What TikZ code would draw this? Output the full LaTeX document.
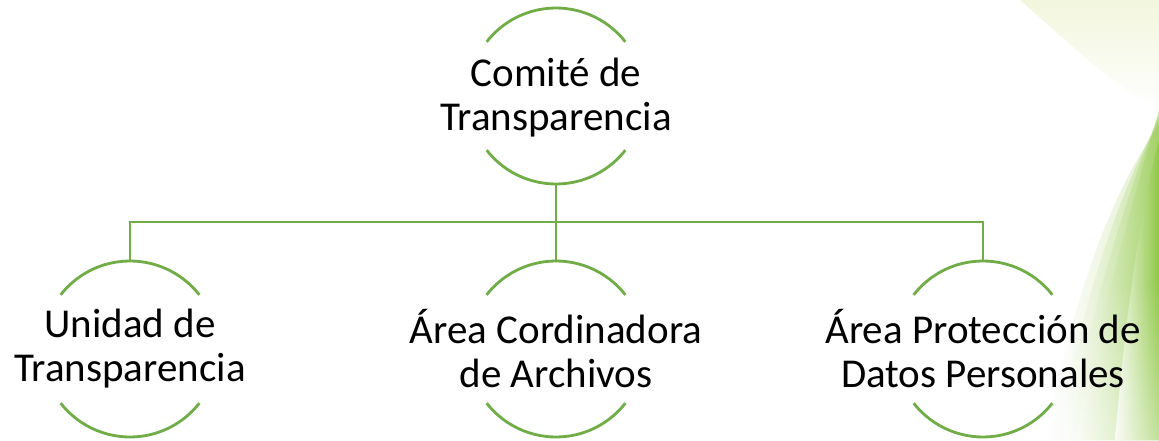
\documentclass[tikz,border=0pt]{standalone}
\usepackage{fontspec}
\setmainfont{Carlito}
\usetikzlibrary{fadings,calc}
\definecolor{lg}{HTML}{70AD47}
\definecolor{swoosh}{HTML}{8CC63E}
\definecolor{pale}{HTML}{F2F6DC}
\tikzset{
  unit/.style={draw=none, inner sep=0pt, align=center,
     font=\fontsize{41}{44}\selectfont, text=black},
  arcline/.style={draw=lg, line width=2.8pt},
  conn/.style={draw=lg, line width=2.6pt},
}
\begin{document}
\begin{tikzpicture}[x=1pt,y=1pt]
\useasboundingbox (0,0) rectangle (1159,440);
\fill[white] (0,0) rectangle (1159,440);
% background
\begin{scope}
\clip (0,0) rectangle (1159,440);
\shade[top color=pale, bottom color=white]
  (1020,440) -- (1159,440) -- (1159,330) .. controls (1110,360) .. (1020,440);
\foreach \d/\o in {30/0.25,20/0.3,10/0.35,0/0.4}{
  \shade[left color=white, right color=swoosh, opacity=\o]
    (1075-\d,0) .. controls (1100-\d,120) and (1130-\d,230) .. (1159,330-\d*0.5) -- (1159,0) -- cycle;
}
\shade[left color=swoosh!0, right color=swoosh, opacity=0.8]
  (1115,0) .. controls (1125,120) and (1140,230) .. (1159,300) -- (1159,0) -- cycle;
\fill[white, opacity=0.45, path fading=north]
  (1040,0) rectangle (1159,160);
\end{scope}
\coordinate (top) at (556,344);
\coordinate (left) at (130,91);
\coordinate (mid) at (556,91);
\coordinate (right) at (983,91);
\node[unit] (ttop) at ($(top)+(0,-2)$) {Comité de\\Transparencia};
\node[unit] (tleft) at (left) {Unidad de\\Transparencia};
\node[unit] (tmid) at (mid) {Área Cordinadora\\de Archivos};
\node[unit] (tright) at (right) {Área Protección de\\Datos Personales};
\foreach \n in {top,left,mid,right}{
  \draw[arcline] ($(\n)+(38:88)$) arc[start angle=38,end angle=142,radius=88pt];
  \draw[arcline] ($(\n)+(218:88)$) arc[start angle=218,end angle=322,radius=88pt];
  \coordinate (\n N) at ($(\n)+(0,88)$);
  \coordinate (\n S) at ($(\n)+(0,-88)$);
}
\coordinate (bus) at (556,218);
\draw[conn] (topS) -- (midN);
\draw[conn] (leftN) -- (leftN |- bus) -- (rightN |- bus) -- (rightN);
\end{tikzpicture}
\end{document}
